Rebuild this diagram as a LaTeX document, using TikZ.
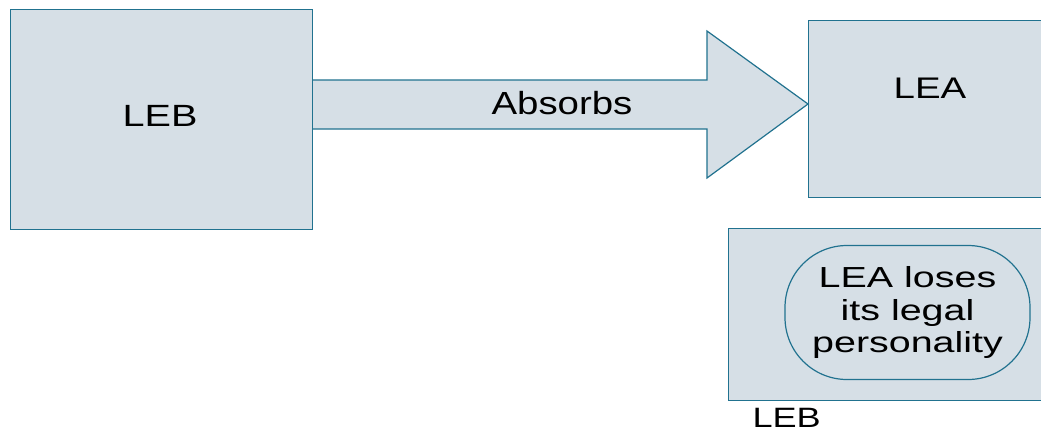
\documentclass[tikz,border=0pt]{standalone}
\usepackage{fontspec}
\setmainfont{Liberation Sans}
\newfontfamily\wideA[FakeStretch=1.29]{Liberation Sans}
\newfontfamily\wideB[FakeStretch=1.2]{Liberation Sans}
\newfontfamily\wideC[FakeStretch=1.36]{Liberation Sans}
\usetikzlibrary{calc}
\definecolor{boxfill}{HTML}{D6DFE6}
\definecolor{boxline}{HTML}{21728F}
\begin{document}
\begin{tikzpicture}[x=1pt,y=1pt,
  entity/.style={draw=boxline,fill=boxfill,line width=1.2pt,inner sep=0pt,anchor=north west},
  lbl/.style={inner sep=0pt},
  roundbox/.style={draw=boxline,line width=1.2pt,rounded corners=62pt,inner sep=0pt,
    minimum width=245pt,minimum height=134pt,align=center,
    font=\wideC\fontsize{29}{32.5}\selectfont}]
\useasboundingbox (0,0) rectangle (1041,-432);
% left box
\node[entity,minimum width=302pt,minimum height=220pt] (leb) at (10,-9) {};
\node[lbl,font=\wideA\fontsize{30.7}{36}\selectfont] (leblbl) at (160,-116) {LEB};
% LEA box
\node[entity,minimum width=250pt,minimum height=177pt] (lea) at (808,-20) {};
\node[lbl,font=\wideA\fontsize{29.8}{36}\selectfont] (lealbl) at (930,-88.4) {LEA};
% bottom box
\node[entity,minimum width=330pt,minimum height=172pt] (legbox) at (728,-228) {};
\node[roundbox] (lose) at (907.5,-312.5) {LEA loses\\its legal\\personality};
\node[lbl,font=\wideA\fontsize{28}{34}\selectfont] (leb2) at (786.7,-418) {LEB};
% block arrow
\coordinate (tip) at (lea.west |- 0,-104);
\draw[draw=boxline,fill=boxfill,line width=1.2pt]
  (leb.east |- 0,-80) -- (707,-80) -- (707,-31) -- (tip) -- (707,-178) -- (707,-129) -- (leb.east |- 0,-129);
\node[lbl,font=\wideB\fontsize{32}{38}\selectfont] (absorbs) at (562,-103.4) {Absorbs};
\end{tikzpicture}
\end{document}
